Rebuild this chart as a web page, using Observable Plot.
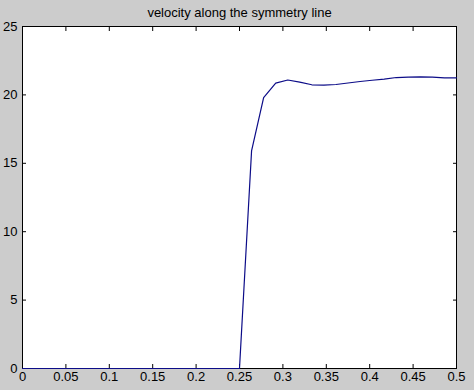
<!DOCTYPE html>
<html>
<head>
<meta charset="utf-8">
<script src="https://cdn.jsdelivr.net/npm/d3@7"></script>
<script src="https://cdn.jsdelivr.net/npm/@observablehq/plot@0.6"></script>
<style>
  html, body { margin: 0; padding: 0; background: #cccccc; }
</style>
</head>
<body>
<div id="chart"></div>
<script>
const titleText = "velocity along the symmetry line";
const xValues = [0, 0.25, 0.2639, 0.2778, 0.2917, 0.3056, 0.3194, 0.3333, 0.3472, 0.3611, 0.375, 0.3889, 0.4028, 0.4167, 0.4306, 0.4444, 0.4583, 0.4722, 0.4861, 0.5];
const velocity = [0, 0, 15.9, 19.8, 20.86, 21.09, 20.94, 20.74, 20.71, 20.76, 20.87, 20.98, 21.07, 21.16, 21.27, 21.3, 21.32, 21.3, 21.25, 21.25];
const xTicks = [0, 0.05, 0.1, 0.15, 0.2, 0.25, 0.3, 0.35, 0.4, 0.45, 0.5];
const yTicks = [0, 5, 10, 15, 20, 25];

const data = xValues.map((x, i) => ({x, v: velocity[i]}));
const fmt = d => String(d);

const chart = Plot.plot({
  width: 474,
  height: 390,
  marginLeft: 22,
  marginRight: 18,
  marginTop: 26,
  marginBottom: 22,
  style: {
    background: "#cccccc",
    fontFamily: "'Liberation Sans', Arial, sans-serif",
    fontSize: "13px",
    color: "black"
  },
  x: {domain: [0, 0.5]},
  y: {domain: [0, 25]},
  marks: [
    Plot.frame({fill: "white", stroke: "none"}),
    Plot.axisX({anchor: "bottom", ticks: xTicks, tickFormat: fmt, tickSize: -4, tickPadding: 7, label: null, stroke: "black"}),
    Plot.axisX({anchor: "top", ticks: xTicks, tickFormat: () => "", tickSize: -4, label: null, stroke: "black"}),
    Plot.axisY({anchor: "left", ticks: yTicks, tickFormat: fmt, tickSize: -4, tickPadding: 9, label: null, stroke: "black"}),
    Plot.axisY({anchor: "right", ticks: yTicks, tickFormat: () => "", tickSize: -4, label: null, stroke: "black"}),
    Plot.frame({stroke: "black", strokeWidth: 1}),
    Plot.line(data, {x: "x", y: "v", stroke: "#0c0c88", strokeWidth: 1.2}),
    Plot.text([titleText], {frameAnchor: "top", lineAnchor: "middle", dy: -14, fontSize: 13, fill: "black"})
  ]
});
document.getElementById("chart").appendChild(chart);
</script>
</body>
</html>
